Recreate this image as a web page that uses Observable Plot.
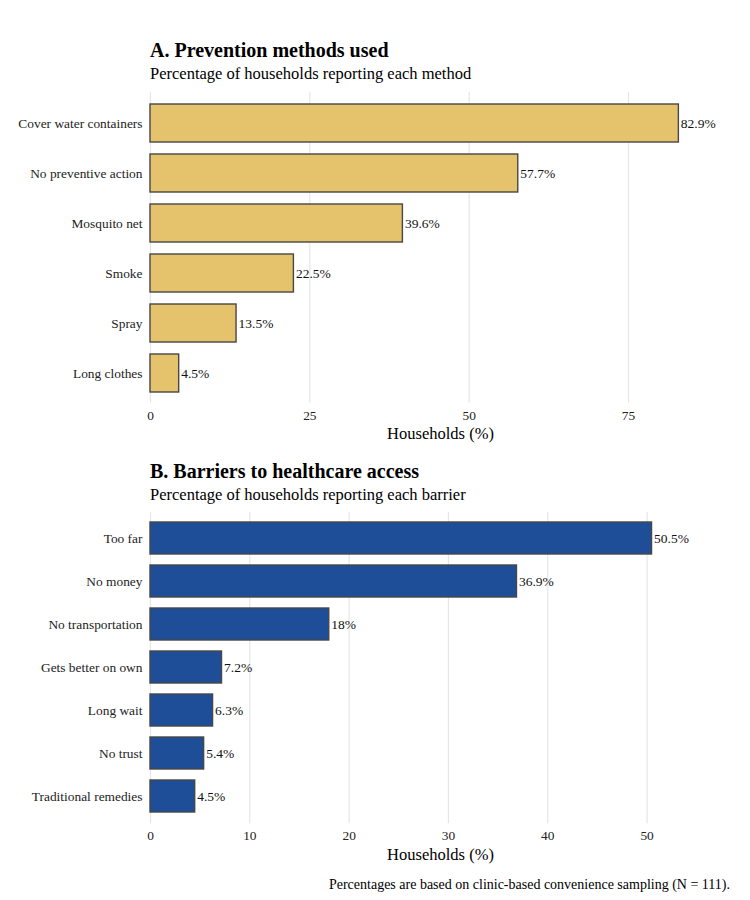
<!DOCTYPE html>
<html>
<head>
<meta charset="utf-8">
<script src="https://cdn.jsdelivr.net/npm/d3@7"></script>
<script src="https://cdn.jsdelivr.net/npm/@observablehq/plot@0.6"></script>
<style>
  body { margin: 0; background: #fff; font-family: "Liberation Serif", "Times New Roman", serif; }
  #root { position: relative; width: 750px; height: 900px; overflow: hidden; }
  #root svg, #root svg text { font-family: "Liberation Serif", "Times New Roman", serif !important; }
  .txt { position: absolute; line-height: 1; white-space: nowrap; color: #000; }
  .title { font-size: 20px; font-weight: bold; left: 150px; }
  .subtitle { font-size: 16.5px; left: 150px; }
  .caption { font-size: 14px; right: 20px; }
  .panel { position: absolute; left: 0; }
</style>
</head>
<body>
<div id="root"></div>
<script>
// Panel A: prevention methods
const preventionMethods = ["Cover water containers", "No preventive action", "Mosquito net", "Smoke", "Spray", "Long clothes"];
const preventionPct = [82.9, 57.7, 39.6, 22.5, 13.5, 4.5];
const preventionTicks = [0, 25, 50, 75];

// Panel B: barriers to healthcare
const barrierTypes = ["Too far", "No money", "No transportation", "Gets better on own", "Long wait", "No trust", "Traditional remedies"];
const barrierPct = [50.5, 36.9, 18, 7.2, 6.3, 5.4, 4.5];
const barrierTicks = [0, 10, 20, 30, 40, 50];

function panel({cats, vals, ticks, xMax, fill, height, marginTop, marginBottom}) {
  const rows = cats.map((c, i) => ({category: c, pct: vals[i]}));
  return Plot.plot({
    width: 750,
    height,
    marginTop,
    marginBottom,
    marginLeft: 150,
    marginRight: 20,
    style: "font-family: 'Liberation Serif', 'Times New Roman', serif; font-size: 13.4px; background: transparent; overflow: visible; color: #222;",
    x: {domain: [0, xMax], label: null},
    y: {domain: cats, paddingInner: 0.25, paddingOuter: 0.225, label: null},
    marks: [
      Plot.gridX(ticks, {stroke: "#e6e6e6", strokeOpacity: 1, strokeWidth: 1.2}),
      Plot.barX(rows, {x: "pct", y: "category", fill, stroke: "#474747", strokeWidth: 1.4}),
      Plot.text(rows, {x: "pct", y: "category", text: d => `${d.pct}%`, textAnchor: "start", dx: 2, fontSize: 13.5, fill: "#111"}),
      Plot.axisY({tickSize: 0, tickPadding: 8, fontSize: 13.4, label: null}),
      Plot.axisX(ticks, {tickSize: 0, tickPadding: 7, fontSize: 13.4, label: null}),
      Plot.text(["Households (%)"], {frameAnchor: "bottom", dy: 30.5, lineAnchor: "middle", fontSize: 16.5, fill: "#000"})
    ]
  });
}

const root = document.getElementById("root");

function addText(cls, text, top) {
  const d = document.createElement("div");
  d.className = "txt " + cls;
  d.style.top = top + "px";
  d.textContent = text;
  root.appendChild(d);
}

function addPanel(svg, top) {
  svg.classList.add("panel");
  svg.style.position = "absolute";
  svg.style.left = "0px";
  svg.style.top = top + "px";
  root.appendChild(svg);
}

// Panel A
addText("title", "A. Prevention methods used", 40);
addText("subtitle", "Percentage of households reporting each method", 66.2);
addPanel(panel({
  cats: preventionMethods, vals: preventionPct, ticks: preventionTicks,
  xMax: 91, fill: "#E5C36C", height: 445, marginTop: 92, marginBottom: 42.3
}), 0);

// Panel B
addText("title", "B. Barriers to healthcare access", 461);
addText("subtitle", "Percentage of households reporting each barrier", 486.9);
addPanel(panel({
  cats: barrierTypes, vals: barrierPct, ticks: barrierTicks,
  xMax: 58.4, fill: "#1F4E99", height: 415, marginTop: 51.7, marginBottom: 51.7
}), 460);

addText("caption", "Percentages are based on clinic-based convenience sampling (N = 111).", 878.3);
</script>
</body>
</html>
